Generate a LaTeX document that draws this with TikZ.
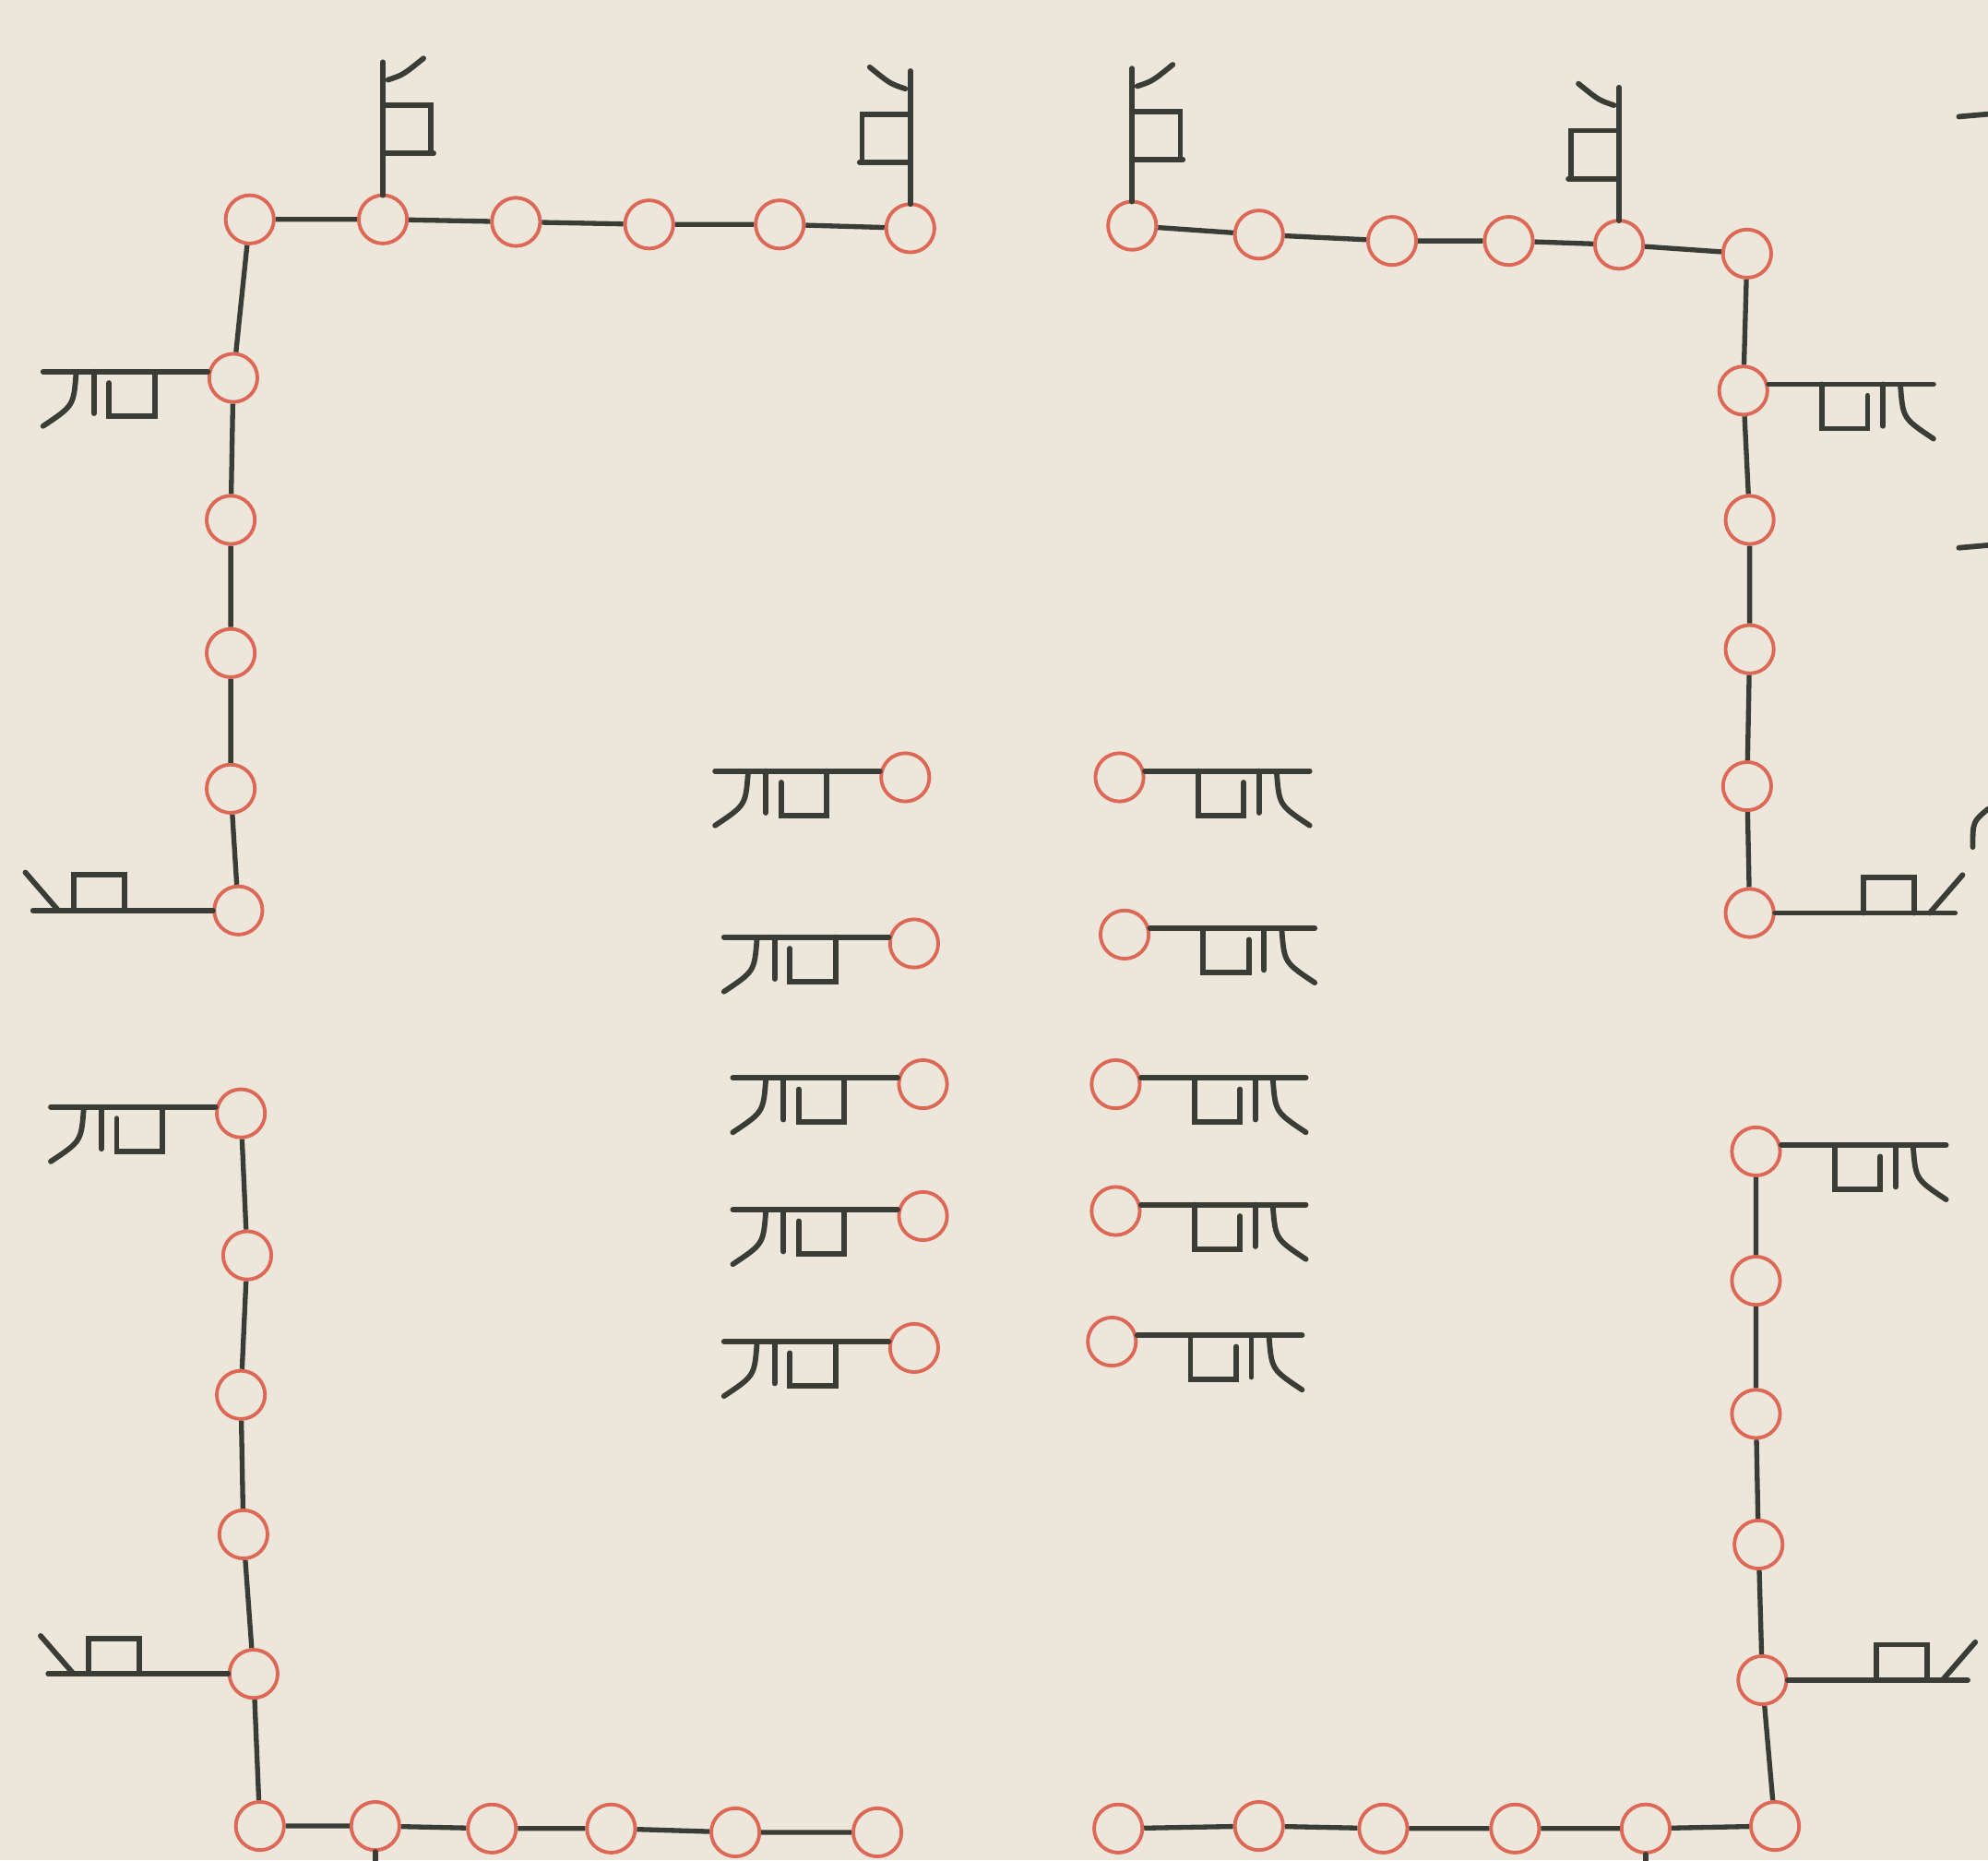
\documentclass[tikz,border=0pt]{standalone}
\usepackage{tikz}
\usetikzlibrary{positioning}
\definecolor{paper}{RGB}{236,230,219}
\definecolor{inkgray}{RGB}{58,60,54}
\definecolor{cinnabar}{RGB}{222,104,86}

% hand-drawn marks hung on the stars
\tikzset{
  pics/hu/.style={code={
    \draw[ink] (0,-19) -- (0,-124);
    \draw[ink] (4,-110) .. controls (16,-114) .. (32,-127);
    \draw[ink] (2,-90) -- (38,-90) -- (38,-52);
    \draw[ink] (0,-52) -- (40,-52);
  }},
  pics/kou/.style={code={
    \draw[ink] (-20,-5) -- (-150,-5);
    \draw[ink] (-124,-3) .. controls (-126,22) .. (-150,38);
    \draw[ink] (-110,-5) -- (-110,28);
    \draw[ink] (-98,4) -- (-98,30) -- (-62,30) -- (-62,-5);
  }},
  pics/lan/.style={code={
    \draw[ink] (-20,0) -- (-162,0);
    \draw[ink] (-168,-30) -- (-142,0);
    \draw[ink] (-130,0) -- (-130,-28) -- (-90,-28) -- (-90,0);
  }}
}

\begin{document}
\begin{tikzpicture}[
  x=0.01cm, y=-0.01cm,
  xing/.style={circle, draw=cinnabar, line width=0.8pt, minimum size=0.38cm, inner sep=0pt},
  link/.style={draw=inkgray, line width=1.1pt},
  ink/.style={draw=inkgray, line width=1.2pt, line cap=round}
]
\useasboundingbox (0,0) rectangle (1568,1467);
\fill[paper] (0,0) rectangle (1568,1467);

% top, left half
\node[xing] (tl1) at (197,173) {};
\node[xing] (tl2) at (302,173) {};
\node[xing] (tl3) at (407,175) {};
\node[xing] (tl4) at (512,177) {};
\node[xing] (tl5) at (615,177) {};
\node[xing] (tl6) at (718,180) {};
% top, right half
\node[xing] (tr1) at (893,178) {};
\node[xing] (tr2) at (993,185) {};
\node[xing] (tr3) at (1098,190) {};
\node[xing] (tr4) at (1190,190) {};
\node[xing] (tr5) at (1277,193) {};
\node[xing] (tr6) at (1378,200) {};
% left wall
\node[xing] (l1) at (184,298) {};
\node[xing] (l2) at (182,410) {};
\node[xing] (l3) at (182,515) {};
\node[xing] (l4) at (182,622) {};
\node[xing] (l5) at (188,718) {};
\node[xing] (m1) at (190,878) {};
\node[xing] (m2) at (195,990) {};
\node[xing] (m3) at (190,1100) {};
\node[xing] (m4) at (192,1210) {};
\node[xing] (m5) at (200,1320) {};
% bottom
\node[xing] (bl1) at (205,1440) {};
\node[xing] (bl2) at (296,1440) {};
\node[xing] (bl3) at (388,1442) {};
\node[xing] (bl4) at (482,1442) {};
\node[xing] (bl5) at (580,1445) {};
\node[xing] (bl6) at (692,1445) {};
\node[xing] (br1) at (882,1442) {};
\node[xing] (br2) at (993,1440) {};
\node[xing] (br3) at (1091,1442) {};
\node[xing] (br4) at (1195,1442) {};
\node[xing] (br5) at (1298,1442) {};
\node[xing] (br6) at (1400,1440) {};
% right wall
\node[xing] (r1) at (1375,308) {};
\node[xing] (r2) at (1380,410) {};
\node[xing] (r3) at (1380,512) {};
\node[xing] (r4) at (1378,620) {};
\node[xing] (r5) at (1380,720) {};
\node[xing] (s1) at (1385,908) {};
\node[xing] (s2) at (1385,1010) {};
\node[xing] (s3) at (1385,1115) {};
\node[xing] (s4) at (1387,1218) {};
\node[xing] (s5) at (1390,1325) {};
% middle pairs
\node[xing] (cl1) at (714,613) {};
\node[xing] (cl2) at (721,744) {};
\node[xing] (cl3) at (728,855) {};
\node[xing] (cl4) at (728,959) {};
\node[xing] (cl5) at (721,1063) {};
\node[xing] (cr1) at (883,613) {};
\node[xing] (cr2) at (887,737) {};
\node[xing] (cr3) at (880,855) {};
\node[xing] (cr4) at (880,955) {};
\node[xing] (cr5) at (877,1058) {};

\draw[link] (l5) -- (l4) -- (l3) -- (l2) -- (l1) -- (tl1) -- (tl2) -- (tl3) -- (tl4) -- (tl5) -- (tl6);
\draw[link] (tr1) -- (tr2) -- (tr3) -- (tr4) -- (tr5) -- (tr6) -- (r1) -- (r2) -- (r3) -- (r4) -- (r5);
\draw[link] (m1) -- (m2) -- (m3) -- (m4) -- (m5) -- (bl1) -- (bl2) -- (bl3) -- (bl4) -- (bl5) -- (bl6);
\draw[link] (br1) -- (br2) -- (br3) -- (br4) -- (br5) -- (br6) -- (s5) -- (s4) -- (s3) -- (s2) -- (s1);

% marks
\pic at (tl2) {hu};
\pic[xscale=-1] at (tl6) {hu};
\pic at (tr1) {hu};
\pic[xscale=-1] at (tr5) {hu};
\pic at (l1) {kou};
\pic at (l5) {lan};
\pic at (m1) {kou};
\pic at (m5) {lan};
\pic[xscale=-1] at (r1) {kou};
\pic[xscale=-1] at (r5) {lan};
\pic[xscale=-1] at (s1) {kou};
\pic[xscale=-1] at (s5) {lan};
\foreach \i in {1,...,5} {
  \pic at (cl\i) {kou};
  \pic[xscale=-1] at (cr\i) {kou};
}

% strokes running off the sheet
\coordinate (cutA) at (bl2 |- 0,1467);
\coordinate (cutB) at (br5 |- 0,1467);
\draw[ink] (bl2.south) -- (cutA);
\draw[ink] (br5.south) -- (cutB);
\draw[ink] (1545,92) -- (1568,90);
\draw[ink] (1545,432) -- (1568,430);
\draw[ink] (1568,638) .. controls (1556,648) .. (1556,668);
\end{tikzpicture}
\end{document}
